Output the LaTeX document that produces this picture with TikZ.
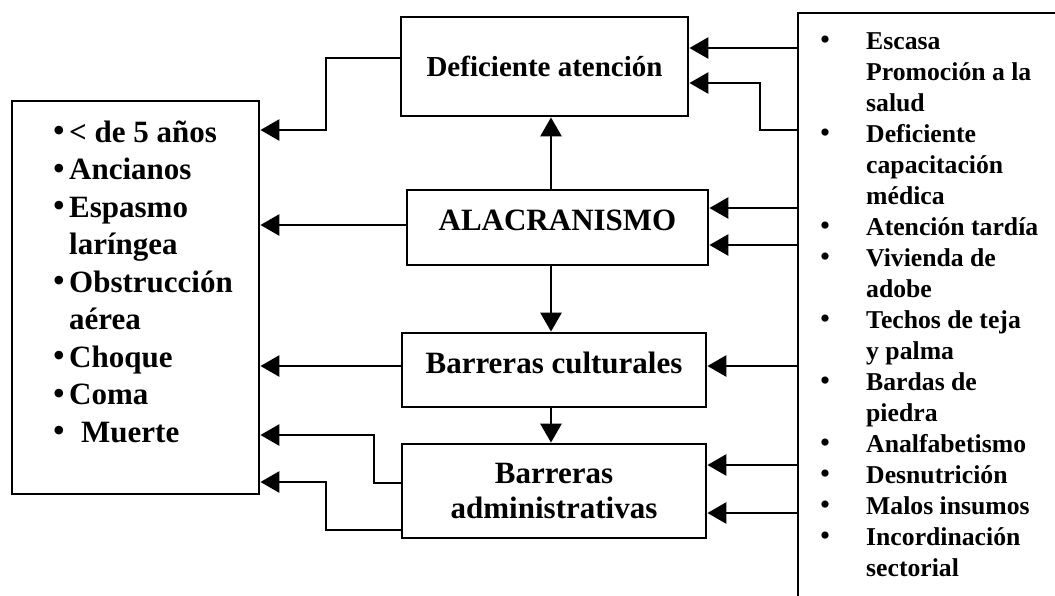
\documentclass[tikz,border=0pt]{standalone}
\usepackage{fontspec}
\setmainfont{Liberation Serif}
\usetikzlibrary{arrows.meta}

\begin{document}
\begin{tikzpicture}[x=1pt,y=-1pt,
    box/.style={draw, line width=2.8pt, inner sep=0pt, align=center},
    arr/.style={line width=2.8pt, -{Triangle[length=19pt,width=21pt]}},
    big/.style={font=\bfseries\fontsize{31}{35}\selectfont},
    small/.style={font=\bfseries\fontsize{25.7}{31}\selectfont},
    bul/.style={inner sep=0pt, font=\fontsize{#1}{#1}\selectfont}]
      \useasboundingbox (0,0) rectangle (1055,595);
      % Effects
      \node[box, minimum width=247pt, minimum height=393pt] (efec) at (135.5,297.5) {};
      \foreach \x/\t [count=\i] in {69/{< de 5 años}, 69/Ancianos, 69/Espasmo, 69/laríngea,
          69/Obstrucción, 69/aérea, 69/Choque, 69/Coma, 81/Muerte}
        \node[big, anchor=base west, inner sep=0pt] (e\i) at (\x,{142+37.5*(\i-1)}) {\t};
      \foreach \i in {1,2,3,5,7,8,9}
        \node[bul=36] (eb\i) at (59,{142+37.5*(\i-1)-7.5}) {•};
      % Middle boxes
      \node[box, minimum width=287pt, minimum height=99pt,
        font=\bfseries\fontsize{29}{35}\selectfont] (def) at (544.5,66.5) {Deficiente atención};
      \node[box, big, minimum width=301pt, minimum height=75pt, text depth=14pt] (ala) at (557.5,227.5) {ALACRANISMO};
      \node[box, big, minimum width=304pt, minimum height=74pt, text depth=14pt] (bcul) at (554,370) {Barreras culturales};
      \node[box, big, minimum width=304pt, minimum height=94pt] (badm) at (554,491) {Barreras\\administrativas};
      \draw[arr] ([xshift=-6.5pt]ala.north) -- ([xshift=-6.5pt]ala.north |- def.south);
      \draw[arr] ([xshift=-6.5pt]ala.south) -- ([xshift=-6.5pt]ala.south |- bcul.north);
      \draw[arr] ([xshift=-3pt]bcul.south) -- ([xshift=-3pt]bcul.south |- badm.north);
      % Lines to the effects
      \draw[arr] ([yshift=8.5pt]def.west) -| (326,130) -- (efec.east |- 0,130);
      \draw[arr] ([yshift=2.5pt]ala.west) -- ([yshift=2.5pt]ala.west -| efec.east);
      \draw[arr] ([yshift=4pt]bcul.west) -- ([yshift=4pt]bcul.west -| efec.east);
      \draw[arr] ([yshift=8pt]badm.west) -| (374,435) -- (efec.east |- 0,435);
      \draw[arr] ([yshift=-39pt]badm.west) -| (326,482) -- (efec.east |- 0,482);
      % Causes
      \draw[line width=2.8pt] (1057,13) -- (798,13) -- (798,597);
      \foreach \t [count=\i] in {Escasa, Promoción a la, salud, Deficiente, capacitación, médica,
          Atención tardía, Vivienda de, adobe, Techos de teja, y palma, Bardas de, piedra,
          Analfabetismo, Desnutrición, Malos insumos, Incordinación, sectorial}
        \node[small, anchor=base west, inner sep=0pt] (c\i) at (866,{49.5+31*(\i-1)}) {\t};
      \foreach \i in {1,4,7,8,10,12,14,15,16,17}
        \node[bul=30] (cb\i) at (825,{49.5+31*(\i-1)-7}) {•};
      % Lines from the causes
      \coordinate (r1) at (798,48);
      \coordinate (r2) at (798,130);
      \coordinate (r3) at (798,208);
      \coordinate (r4) at (798,245);
      \coordinate (r5) at (798,366);
      \coordinate (r6) at (798,465);
      \coordinate (r7) at (798,513);
      \draw[arr] (r1) -- (r1 -| def.east);
      \draw[arr] (r2) -| (760,83) -- (def.east |- 0,83);
      \draw[arr] (r3) -- (r3 -| ala.east);
      \draw[arr] (r4) -- (r4 -| ala.east);
      \draw[arr] (r5) -- (r5 -| bcul.east);
      \draw[arr] (r6) -- (r6 -| badm.east);
      \draw[arr] (r7) -- (r7 -| badm.east);
\end{tikzpicture}
\end{document}
